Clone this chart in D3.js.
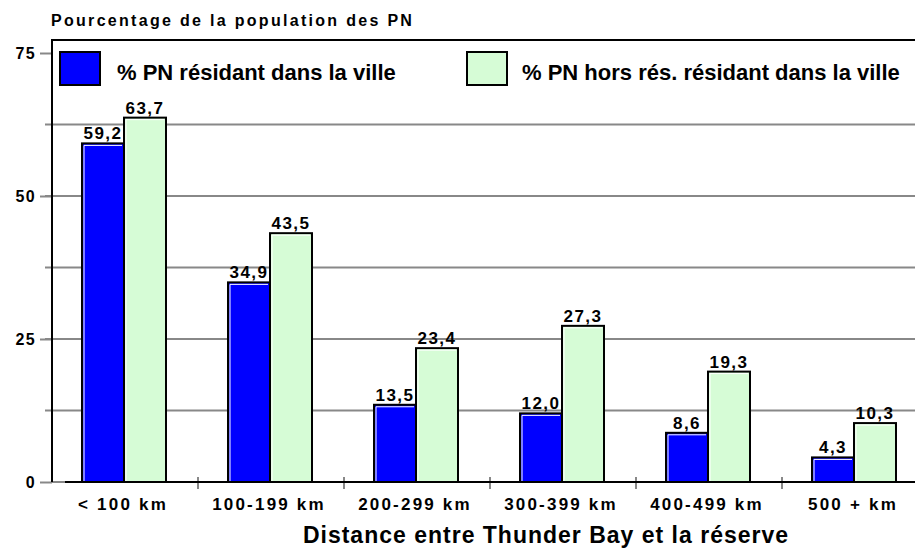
<!DOCTYPE html>
<html>
<head>
<meta charset="utf-8">
<script src="https://cdn.jsdelivr.net/npm/d3@7"></script>
<style>
body { margin: 0; background: #fff; }
text { font-family: "Liberation Sans", Arial, sans-serif; font-weight: bold; fill: #000; }
</style>
</head>
<body>
<svg id="chart" width="915" height="550"></svg>
<script>
// data
var categories = ["< 100 km", "100-199 km", "200-299 km", "300-399 km", "400-499 km", "500 + km"];
var seriesNames = ["% PN résidant dans la ville", "% PN hors rés. résidant dans la ville"];
var resident = [59.2, 34.9, 13.5, 12.0, 8.6, 4.3];
var horsRes = [63.7, 43.5, 23.4, 27.3, 19.3, 10.3];
var yLabelTicks = [0, 25, 50, 75];
var yGridTicks = [12.5, 25, 37.5, 50, 62.5];
var yTitle = "Pourcentage de la population des PN";
var xTitle = "Distance entre Thunder Bay et la réserve";

var colors = ["#0000ff", "#d6fcd6"];
var series = [resident, horsRes];

var width = 915, height = 550;
var plotLeft = 52, plotTop = 40, plotBottom = 482, step = 146;

var svg = d3.select("#chart");

var y = d3.scaleLinear().domain([0, 75]).range([plotBottom, 53]);
var x0 = d3.scaleBand().domain(categories).range([plotLeft, plotLeft + step * categories.length]);
var x1 = d3.scaleBand().domain([0, 1]).range([30, 114]);

var fmt = function(v){ return d3.format(".1f")(v).replace(".", ","); };

/* gridlines */
svg.append("g")
    .selectAll("line")
    .data(yGridTicks)
    .enter()
    .append("line")
    .attr("x1", 45).attr("x2", width)
    .attr("y1", d => y(d)).attr("y2", d => y(d))
    .attr("stroke", "#888").attr("stroke-width", 2);

/* y axis: labels + short ticks */
var yAxis = d3.axisLeft(y).tickValues(yLabelTicks).tickSize(12).tickPadding(4);
var yg = svg.append("g")
    .attr("transform", "translate(" + plotLeft + ",0)")
    .call(yAxis);
yg.select(".domain").remove();
yg.selectAll(".tick line").attr("stroke", "#888").attr("stroke-width", 2);
yg.selectAll(".tick text")
    .attr("font-size", 16)
    .attr("letter-spacing", 1.3)
    .attr("fill", "#000");
// the 0 tick runs on into the axis line
svg.append("line")
    .attr("x1", plotLeft).attr("x2", 65)
    .attr("y1", y(0)).attr("y2", y(0))
    .attr("stroke", "#888").attr("stroke-width", 2);

/* frame */
svg.append("line").attr("x1", plotLeft).attr("x2", plotLeft).attr("y1", plotTop - 1).attr("y2", plotBottom)
    .attr("stroke", "#000").attr("stroke-width", 2);
svg.append("line").attr("x1", plotLeft - 1).attr("x2", width).attr("y1", plotTop).attr("y2", plotTop)
    .attr("stroke", "#000").attr("stroke-width", 2);

/* separator ticks between categories */
svg.append("g")
    .selectAll("line")
    .data(categories.slice(1))
    .enter()
    .append("line")
    .attr("x1", d => x0(d)).attr("x2", d => x0(d))
    .attr("y1", plotBottom - 5).attr("y2", plotBottom + 7)
    .attr("stroke", "#888").attr("stroke-width", 2);

/* bars */
series.forEach(function(vals, si){
    var g = svg.append("g");
    var bars = g.selectAll("g")
        .data(vals)
        .enter()
        .append("g")
        .attr("transform", (d, i) => "translate(" + (x0(categories[i]) + x1(si)) + ",0)");
    bars.append("rect")
        .attr("x", 0)
        .attr("y", d => y(d))
        .attr("width", x1.bandwidth())
        .attr("height", d => y(0) - y(d))
        .attr("fill", colors[si])
        .attr("stroke", "#000")
        .attr("stroke-width", 2);
    // little white highlight on top/left
    bars.append("path")
        .attr("d", d => "M2," + (y(0) - 1) + "V" + (y(d) + 2) + "H" + (x1.bandwidth() - 2))
        .attr("fill", "none")
        .attr("stroke", "#fff")
        .attr("stroke-width", 1);
    bars.append("text")
        .attr("x", x1.bandwidth() / 2)
        .attr("y", d => y(d) - 4)
        .attr("text-anchor", "middle")
        .attr("font-size", 17)
        .attr("letter-spacing", 1.5)
        .text(d => fmt(d));
});

/* x axis */
var xAxis = d3.axisBottom(x0).tickSize(0).tickPadding(16);
var xg = svg.append("g")
    .attr("transform", "translate(0," + plotBottom + ")")
    .call(xAxis);
xg.select(".domain").remove();
xg.selectAll(".tick text")
    .attr("font-size", 17)
    .attr("letter-spacing", 2.2)
    .attr("fill", "#000")
    .attr("dx", -2);
svg.append("line")
    .attr("x1", 65).attr("x2", width)
    .attr("y1", plotBottom).attr("y2", plotBottom)
    .attr("stroke", "#000").attr("stroke-width", 2);

/* legend */
var legendX = [60, 467];
var leg = svg.append("g")
    .selectAll("g")
    .data(seriesNames)
    .enter()
    .append("g")
    .attr("transform", (d, i) => "translate(" + legendX[i] + ",52)");
leg.append("rect")
    .attr("width", 40).attr("height", 33)
    .attr("fill", (d, i) => colors[i])
    .attr("stroke", "#000").attr("stroke-width", 2);
leg.append("text")
    .attr("x", (d, i) => i === 0 ? 57 : 55).attr("y", 28)
    .attr("font-size", 22)
    .text(d => d);

/* titles */
svg.append("text")
    .attr("x", 51).attr("y", 26)
    .attr("font-size", 16)
    .attr("letter-spacing", 2.3)
    .text(yTitle);
svg.append("text")
    .attr("x", 546).attr("y", 543)
    .attr("text-anchor", "middle")
    .attr("font-size", 23)
    .attr("letter-spacing", 1)
    .text(xTitle);
</script>
</body>
</html>
